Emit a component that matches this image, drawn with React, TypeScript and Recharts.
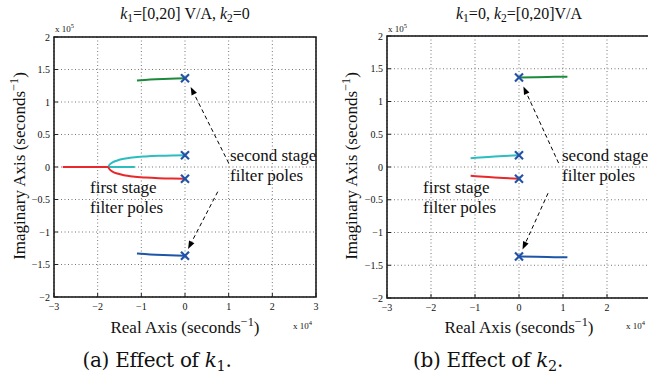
import React from 'react';
import {
  ComposedChart, Line, Scatter, XAxis, YAxis, CartesianGrid, ReferenceArea, ReferenceLine,
} from 'recharts';

// axes: real axis in units of 1e4, imaginary axis in units of 1e5
const xTicks = [-3, -2, -1, 0, 1, 2, 3];
const yTicks = [-2, -1.5, -1, -0.5, 0, 0.5, 1, 1.5, 2];

// (a) effect of k1
const k1Green = [
  { x: -1.1, y: 1.33 }, { x: -0.8, y: 1.345 }, { x: -0.5, y: 1.355 }, { x: -0.2, y: 1.362 }, { x: 0, y: 1.365 },
];
const k1Blue = [
  { x: -1.1, y: -1.33 }, { x: -0.8, y: -1.345 }, { x: -0.5, y: -1.355 }, { x: -0.2, y: -1.362 }, { x: 0, y: -1.365 },
];
const k1Cyan = [
  { x: 0, y: 0.18 }, { x: -0.3, y: 0.178 }, { x: -0.6, y: 0.172 }, { x: -0.9, y: 0.162 },
  { x: -1.2, y: 0.146 }, { x: -1.4, y: 0.126 }, { x: -1.55, y: 0.1 }, { x: -1.65, y: 0.074 },
  { x: -1.72, y: 0.04 }, { x: -1.77, y: 0 }, { x: -1.5, y: 0 }, { x: -1.15, y: 0 },
];
const k1Red = [
  { x: 0, y: -0.18 }, { x: -0.3, y: -0.178 }, { x: -0.6, y: -0.172 }, { x: -0.9, y: -0.162 },
  { x: -1.2, y: -0.146 }, { x: -1.4, y: -0.126 }, { x: -1.55, y: -0.1 }, { x: -1.65, y: -0.074 },
  { x: -1.72, y: -0.04 }, { x: -1.77, y: 0 }, { x: -2.2, y: 0 }, { x: -2.8, y: 0 },
];

// (b) effect of k2
const k2Green = [
  { x: 0, y: 1.365 }, { x: 0.4, y: 1.372 }, { x: 0.8, y: 1.376 }, { x: 1.1, y: 1.378 },
];
const k2Blue = [
  { x: 0, y: -1.365 }, { x: 0.4, y: -1.372 }, { x: 0.8, y: -1.376 }, { x: 1.1, y: -1.378 },
];
const k2Cyan = [
  { x: -1.1, y: 0.135 }, { x: -0.7, y: 0.152 }, { x: -0.35, y: 0.168 }, { x: 0, y: 0.18 },
];
const k2Red = [
  { x: -1.1, y: -0.135 }, { x: -0.7, y: -0.152 }, { x: -0.35, y: -0.168 }, { x: 0, y: -0.18 },
];

// open-loop poles (k = 0)
const poles = [
  { x: 0, y: 1.365 }, { x: 0, y: 0.18 }, { x: 0, y: -0.18 }, { x: 0, y: -1.365 },
];

// arrows from "second stage filter poles" label to the poles
const k1Arrows = [
  [{ x: 1.0, y: 0.06 }, { x: 0.13, y: 1.23 }],
  [{ x: 0.75, y: -0.38 }, { x: 0.07, y: -1.26 }],
];
const k2Arrows = [
  [{ x: 0.9, y: 0.06 }, { x: 0.1, y: 1.23 }],
  [{ x: 0.66, y: -0.4 }, { x: 0.08, y: -1.26 }],
];

const RED = '#e8282b';
const CYAN = '#2bbdc0';
const GREEN = '#1b8a3c';
const BLUE = '#1d55a8';
const POLE = '#2152a6';
const SERIF = '"Liberation Serif", "Times New Roman", serif';

const fmt = (v: number) => (v < 0 ? '\u2212' + Math.abs(v) : String(v));

const Cross = (props: any) => {
  const { cx, cy } = props;
  const s = 4;
  return (
    <g stroke={POLE} strokeWidth={2.2}>
      <line x1={cx - s} y1={cy - s} x2={cx + s} y2={cy + s} />
      <line x1={cx - s} y1={cy + s} x2={cx + s} y2={cy - s} />
    </g>
  );
};

const Arrow = (props: any) => {
  const { x1, y1, x2, y2 } = props;
  const ang = Math.atan2(y2 - y1, x2 - x1);
  const len = 8;
  const w = 3;
  const bx = x2 - len * Math.cos(ang);
  const by = y2 - len * Math.sin(ang);
  const px = -Math.sin(ang) * w;
  const py = Math.cos(ang) * w;
  return (
    <g>
      <line x1={x1} y1={y1} x2={bx} y2={by} stroke="#000" strokeWidth={1} strokeDasharray="4 3" />
      <polygon points={`${x2},${y2} ${bx + px},${by + py} ${bx - px},${by - py}`} fill="#000" />
    </g>
  );
};

interface PanelProps {
  series: { data: any[]; color: string }[];
  arrows: any[][];
  margin: { top: number; right: number; bottom: number; left: number };
  yWidth: number;
}

function Panel({ series, arrows, margin, yWidth }: PanelProps) {
  const tick = { fontFamily: SERIF, fontSize: 10, fill: '#111' };
  return (
    <ComposedChart width={330} height={378} margin={margin}>
      <CartesianGrid stroke="#777" strokeDasharray="1 2.5" />
      <XAxis
        type="number" dataKey="x" domain={[-3, 3]} ticks={xTicks} allowDataOverflow
        tickFormatter={fmt} tick={tick} axisLine={false} tickLine={{ stroke: '#222' }}
        tickSize={-4} tickMargin={10} height={20}
      />
      <YAxis
        type="number" dataKey="y" domain={[-2, 2]} ticks={yTicks} allowDataOverflow
        tickFormatter={fmt} tick={tick} axisLine={false} tickLine={{ stroke: '#222' }}
        tickSize={-4} tickMargin={8} width={yWidth}
      />
      <ReferenceArea x1={-3} x2={3} y1={-2} y2={2} fill="none" stroke="#111" strokeWidth={1.5} fillOpacity={0} />
      {series.map((s, i) => (
        <Line
          key={i} data={s.data} dataKey="y" type="monotone" stroke={s.color} strokeWidth={2}
          dot={false} activeDot={false} isAnimationActive={false}
        />
      ))}
      {arrows.map((seg, i) => (
        <ReferenceLine key={'a' + i} segment={seg} shape={Arrow} stroke="#000" />
      ))}
      <Scatter data={poles} dataKey="y" shape={Cross} isAnimationActive={false} />
    </ComposedChart>
  );
}

const abs = (left: number, top: number, extra: React.CSSProperties = {}): React.CSSProperties => ({
  position: 'absolute', left, top, fontFamily: SERIF, color: '#111', whiteSpace: 'nowrap', lineHeight: 1, ...extra,
});

const Sup = ({ children }: { children: React.ReactNode }) => (
  <span style={{ fontSize: '0.72em', verticalAlign: '0.55em' }}>{children}</span>
);
const Sub = ({ children }: { children: React.ReactNode }) => (
  <span style={{ fontSize: '0.72em', verticalAlign: '-0.3em' }}>{children}</span>
);

function Labels({ ox, plotLeft, plotCenter, labelX, title, caption, captionX, secX, firstX }: any) {
  const center = { transform: 'translate(-50%, -50%)' };
  return (
    <>
      <div style={abs(ox + plotCenter, 15, { ...center, fontSize: 16 })}>{title}</div>
      <div style={abs(ox + plotLeft + 1, 23, { fontSize: 9 })}>x 10<Sup>5</Sup></div>
      <div style={abs(ox + labelX, 166, { transform: 'translate(-50%, -50%) rotate(-90deg)', fontSize: 17 })}>
        Imaginary Axis (seconds<Sup>{'\u2212'}1</Sup>)
      </div>
      <div style={abs(ox + plotCenter, 326, { ...center, fontSize: 17 })}>
        Real Axis (seconds<Sup>{'\u2212'}1</Sup>)
      </div>
      <div style={abs(ox + plotLeft + 239, 320, { fontSize: 9 })}>x 10<Sup>4</Sup></div>
      <div style={abs(ox + secX, 146, { fontSize: 17, lineHeight: '20px' })}>second stage<br />filter poles</div>
      <div style={abs(ox + firstX, 178, { fontSize: 17, lineHeight: '19.5px' })}>first stage<br />filter poles</div>
      <div style={abs(ox + captionX, 362, { ...center, fontSize: 20, fontFamily: '"DejaVu Serif", serif', letterSpacing: -0.3 })}>{caption}</div>
    </>
  );
}

export default function App() {
  return (
    <div style={{ position: 'absolute', left: 0, top: 0, width: 648, height: 378, overflow: 'hidden', background: '#fff' }}>
      <div style={{ position: 'absolute', left: 0, top: 0 }}>
        <Panel
          series={[
            { data: k1Green, color: GREEN }, { data: k1Blue, color: BLUE },
            { data: k1Cyan, color: CYAN }, { data: k1Red, color: RED },
          ]}
          arrows={k1Arrows}
          margin={{ top: 37, right: 14, bottom: 61, left: 0 }}
          yWidth={54}
        />
      </div>
      <div style={{ position: 'absolute', left: 330, top: 0 }}>
        <Panel
          series={[
            { data: k2Green, color: GREEN }, { data: k2Blue, color: BLUE },
            { data: k2Cyan, color: CYAN }, { data: k2Red, color: RED },
          ]}
          arrows={k2Arrows}
          margin={{ top: 36, right: 9, bottom: 60, left: 0 }}
          yWidth={57}
        />
      </div>
      <Labels
        ox={0} plotLeft={54} plotCenter={185} labelX={18}
        title={<span><i>k</i><Sub>1</Sub>=[0,20] V/A, <i>k</i><Sub>2</Sub>=0</span>}
        caption={<span>(a) Effect of <i>k</i><Sub>1</Sub>.</span>}
        captionX={157} secX={230} firstX={90}
      />
      <Labels
        ox={330} plotLeft={57} plotCenter={189} labelX={20}
        title={<span><i>k</i><Sub>1</Sub>=0, <i>k</i><Sub>2</Sub>=[0,20]V/A</span>}
        caption={<span>(b) Effect of <i>k</i><Sub>2</Sub>.</span>}
        captionX={158} secX={232} firstX={93}
      />
    </div>
  );
}
